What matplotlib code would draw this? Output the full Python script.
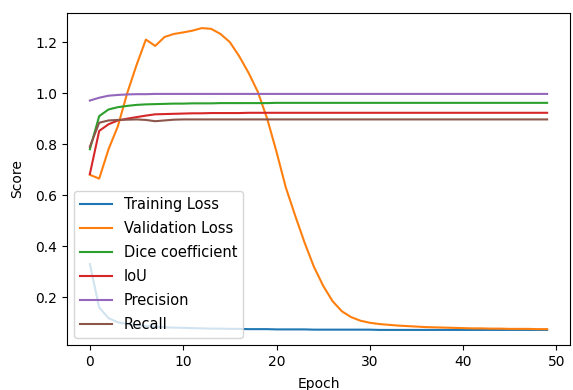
import numpy as np
import matplotlib
matplotlib.use("Agg")
import matplotlib.pyplot as plt

# values, epochs 0..49
epochs = np.arange(50)

train_loss = [0.33, 0.16, 0.118, 0.102, 0.095, 0.09, 0.087, 0.084, 0.082, 0.081,
              0.08, 0.079, 0.078, 0.077, 0.077, 0.076, 0.076, 0.075, 0.075, 0.075,
              0.074, 0.074, 0.074, 0.074, 0.073, 0.073, 0.073, 0.073, 0.073, 0.073,
              0.073, 0.072, 0.072, 0.072, 0.072, 0.072, 0.072, 0.072, 0.072, 0.072,
              0.072, 0.072, 0.072, 0.072, 0.072, 0.072, 0.072, 0.072, 0.072, 0.072]

val_loss = [0.68, 0.665, 0.78, 0.87, 1.0, 1.11, 1.21, 1.185, 1.22, 1.232,
            1.238, 1.245, 1.255, 1.252, 1.232, 1.2, 1.145, 1.08, 1.005, 0.9,
            0.77, 0.63, 0.52, 0.415, 0.32, 0.245, 0.185, 0.145, 0.122, 0.108,
            0.1, 0.095, 0.092, 0.089, 0.087, 0.085, 0.083, 0.082, 0.081, 0.08,
            0.079, 0.078, 0.078, 0.077, 0.077, 0.076, 0.076, 0.076, 0.075, 0.075]

dice = [0.78, 0.91, 0.936, 0.945, 0.95, 0.954, 0.956, 0.957, 0.958, 0.959,
        0.959, 0.96, 0.96, 0.96, 0.961, 0.961, 0.961, 0.961, 0.961, 0.961,
        0.962, 0.962, 0.962, 0.962, 0.962, 0.962, 0.962, 0.962, 0.962, 0.962,
        0.962, 0.962, 0.962, 0.962, 0.962, 0.962, 0.962, 0.962, 0.962, 0.962,
        0.962, 0.962, 0.962, 0.962, 0.962, 0.962, 0.962, 0.962, 0.962, 0.962]

iou = [0.683, 0.852, 0.878, 0.893, 0.9, 0.906, 0.912, 0.917, 0.918, 0.919,
       0.92, 0.921, 0.921, 0.922, 0.922, 0.922, 0.922, 0.923, 0.923, 0.923,
       0.923, 0.923, 0.923, 0.923, 0.923, 0.923, 0.923, 0.923, 0.923, 0.923,
       0.923, 0.923, 0.923, 0.923, 0.923, 0.923, 0.923, 0.923, 0.923, 0.923,
       0.923, 0.923, 0.923, 0.923, 0.923, 0.923, 0.923, 0.923, 0.923, 0.923]

precision = [0.971, 0.982, 0.99, 0.993, 0.995, 0.996, 0.996, 0.997, 0.997, 0.997,
             0.997, 0.997, 0.997, 0.997, 0.997, 0.997, 0.997, 0.997, 0.997, 0.997,
             0.997, 0.997, 0.997, 0.997, 0.997, 0.997, 0.997, 0.997, 0.997, 0.997,
             0.997, 0.997, 0.997, 0.997, 0.997, 0.997, 0.997, 0.997, 0.997, 0.997,
             0.997, 0.997, 0.997, 0.997, 0.997, 0.997, 0.997, 0.997, 0.997, 0.997]

recall = [0.79, 0.884, 0.893, 0.895, 0.896, 0.897, 0.895, 0.89, 0.893, 0.896,
          0.897, 0.897, 0.897, 0.897, 0.897, 0.897, 0.897, 0.897, 0.897, 0.897,
          0.897, 0.897, 0.897, 0.897, 0.897, 0.897, 0.897, 0.897, 0.897, 0.897,
          0.897, 0.897, 0.897, 0.897, 0.897, 0.897, 0.897, 0.897, 0.897, 0.897,
          0.897, 0.897, 0.897, 0.897, 0.897, 0.897, 0.897, 0.897, 0.897, 0.897]

series = [
    ("Training Loss", train_loss),
    ("Validation Loss", val_loss),
    ("Dice coefficient", dice),
    ("IoU", iou),
    ("Precision", precision),
    ("Recall", recall),
]

fig = plt.figure(figsize=(5.73, 3.9), dpi=100)
ax = fig.add_axes([67 / 573, 1 - 345 / 390, 503 / 573, 332 / 390])

for name, vals in series:
    ax.plot(epochs, vals, label=name)

ax.set_xlabel("Epoch", labelpad=6)
ax.set_ylabel("Score", labelpad=8)
ax.legend(loc="lower left", fontsize=10.5, handlelength=2.2, labelspacing=0.62)

fig.savefig("out.png", dpi=100)
